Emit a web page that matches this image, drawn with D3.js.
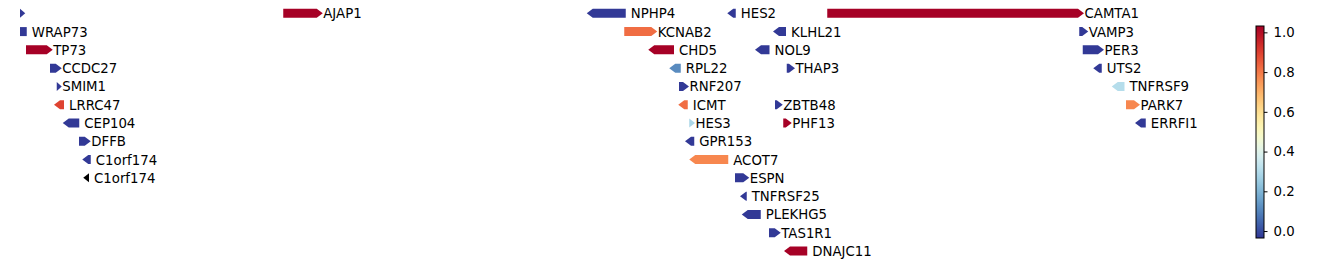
<!DOCTYPE html>
<html>
<head>
<meta charset="utf-8">
<script src="https://cdn.jsdelivr.net/npm/d3@7"></script>
<style>
  html, body { margin: 0; padding: 0; background: #fff; }
  svg { display: block; }
  text { font-family: "DejaVu Sans", sans-serif; font-size: 13.3px; fill: #000; }
</style>
</head>
<body>
<svg id="chart" width="1338" height="265"></svg>
<script>
// ---- data (positions in kb, score in colour units) ----
const geneNames  = ["", "AJAP1", "NPHP4", "HES2", "CAMTA1",
                    "WRAP73", "KCNAB2", "KLHL21", "VAMP3",
                    "TP73", "CHD5", "NOL9", "PER3",
                    "CCDC27", "RPL22", "THAP3", "UTS2",
                    "SMIM1", "RNF207", "TNFRSF9",
                    "LRRC47", "ICMT", "ZBTB48", "PARK7",
                    "CEP104", "HES3", "PHF13", "ERRFI1",
                    "DFFB", "GPR153",
                    "C1orf174", "ACOT7",
                    "C1orf174", "ESPN",
                    "TNFRSF25",
                    "PLEKHG5",
                    "TAS1R1",
                    "DNAJC11"];
const geneStarts = [3480, 4533, 5747, 6309, 6709,
                    3480, 5897, 6492, 7717,
                    3504, 5993, 6420, 7731,
                    3600, 6077, 6547, 7773,
                    3627, 6116, 7847,
                    3616, 6113, 6500, 7904,
                    3651, 6157, 6533, 7940,
                    3716, 6140,
                    3729, 6157,
                    3733, 6340,
                    6360,
                    6367,
                    6476,
                    6536];
const geneEnds   = [3501, 4691, 5903, 6343, 7736,
                    3507, 6029, 6544, 7753,
                    3611, 6096, 6478, 7816,
                    3647, 6123, 6580, 7807,
                    3647, 6156, 7898,
                    3656, 6151, 6531, 7960,
                    3717, 6180, 6567, 7983,
                    3763, 6177,
                    3763, 6313,
                    3756, 6397,
                    6387,
                    6443,
                    6523,
                    6629];
const geneStrands = ["+", "+", "-", "-", "+",
                     ".", "+", "-", "+",
                     "+", "-", "-", "+",
                     "+", "-", "+", "-",
                     "+", "+", "-",
                     "-", "-", "+", "+",
                     "-", "+", "+", "-",
                     "+", "-",
                     "-", "-",
                     "-", "+",
                     "-",
                     "-",
                     "+",
                     "-"];
const geneScores = [-0.03, 1.03, -0.03, -0.03, 1.03,
                    -0.03, 0.82, -0.03, -0.03,
                    1.03, 1.03, -0.03, -0.03,
                    -0.03, 0.114, -0.03, -0.03,
                    -0.03, -0.03, 0.306,
                    0.893, 0.82, -0.03, 0.776,
                    -0.03, 0.285, 1.03, -0.03,
                    -0.03, -0.03,
                    -0.03, 0.776,
                    NaN, -0.03,
                    -0.03,
                    -0.03,
                    -0.03,
                    1.03];
const geneRows   = [0, 0, 0, 0, 0,
                    1, 1, 1, 1,
                    2, 2, 2, 2,
                    3, 3, 3, 3,
                    4, 4, 4,
                    5, 5, 5, 5,
                    6, 6, 6, 6,
                    7, 7,
                    8, 8,
                    9, 9,
                    10,
                    11,
                    12,
                    13];
const colorDomain = [-0.035, 1.032];
const colorTicks = [0.0, 0.2, 0.4, 0.6, 0.8, 1.0];

// ---- layout ----
const svg = d3.select("#chart");
const x = d3.scaleLinear().domain([3400, 8360]).range([0, 1240]);
const y = d3.scaleLinear().domain([0, 13]).range([13.3, 251]);
const cmap = t => d3.interpolateRdYlBu(1 - t);
const colorScale = d3.scaleSequential(cmap).domain(colorDomain);

const genes = geneNames.map((name, i) => ({
  name, start: geneStarts[i], end: geneEnds[i], strand: geneStrands[i],
  score: geneScores[i], row: geneRows[i]
}));

const H = 9, HEAD = 6;
function shape(d) {
  const x0 = x(d.start), x1 = x(d.end), cy = y(d.row);
  const top = cy - H / 2, bot = cy + H / 2;
  const h = Math.min(HEAD, x1 - x0);
  if (d.strand === "+") {
    return `M${x0},${top}L${x1 - h},${top}L${x1},${cy}L${x1 - h},${bot}L${x0},${bot}Z`;
  } else if (d.strand === "-") {
    return `M${x1},${top}L${x0 + h},${top}L${x0},${cy}L${x0 + h},${bot}L${x1},${bot}Z`;
  }
  return `M${x0},${top}L${x1},${top}L${x1},${bot}L${x0},${bot}Z`;
}

const g = svg.append("g");
g.selectAll("path.gene").data(genes).join("path")
  .attr("class", "gene")
  .attr("d", shape)
  .attr("fill", d => isNaN(d.score) ? "#000" : colorScale(d.score));

g.selectAll("text.label").data(genes.filter(d => d.name)).join("text")
  .attr("class", "label")
  .attr("x", d => x(d.end) + (d.strand === "+" ? 0.5 : 5))
  .attr("y", d => y(d.row) + 5)
  .text(d => d.name);

// ---- colourbar ----
const cbX = 1256, cbW = 8;
const cbY = d3.scaleLinear().domain(colorDomain).range([238, 26]);
const defs = svg.append("defs");
const grad = defs.append("linearGradient").attr("id", "cbgrad")
  .attr("x1", 0).attr("y1", 1).attr("x2", 0).attr("y2", 0);
d3.range(0, 1.0001, 0.02).forEach(t => {
  grad.append("stop").attr("offset", t).attr("stop-color", cmap(t));
});
svg.append("rect")
  .attr("x", cbX).attr("y", cbY(colorDomain[1]))
  .attr("width", cbW).attr("height", cbY(colorDomain[0]) - cbY(colorDomain[1]))
  .attr("fill", "url(#cbgrad)")
  .attr("stroke", "#000").attr("stroke-width", 1);

const axis = d3.axisRight(cbY).tickValues(colorTicks).tickFormat(d3.format(".1f"))
  .tickSize(3.5).tickPadding(6);
const ax = svg.append("g").attr("transform", `translate(${cbX + cbW},0)`).call(axis);
ax.select(".domain").remove();
ax.selectAll("text").style("font-family", "DejaVu Sans, sans-serif").style("font-size", "13.3px").attr("fill", "#000");
ax.selectAll("line").attr("stroke", "#000");
</script>
</body>
</html>
